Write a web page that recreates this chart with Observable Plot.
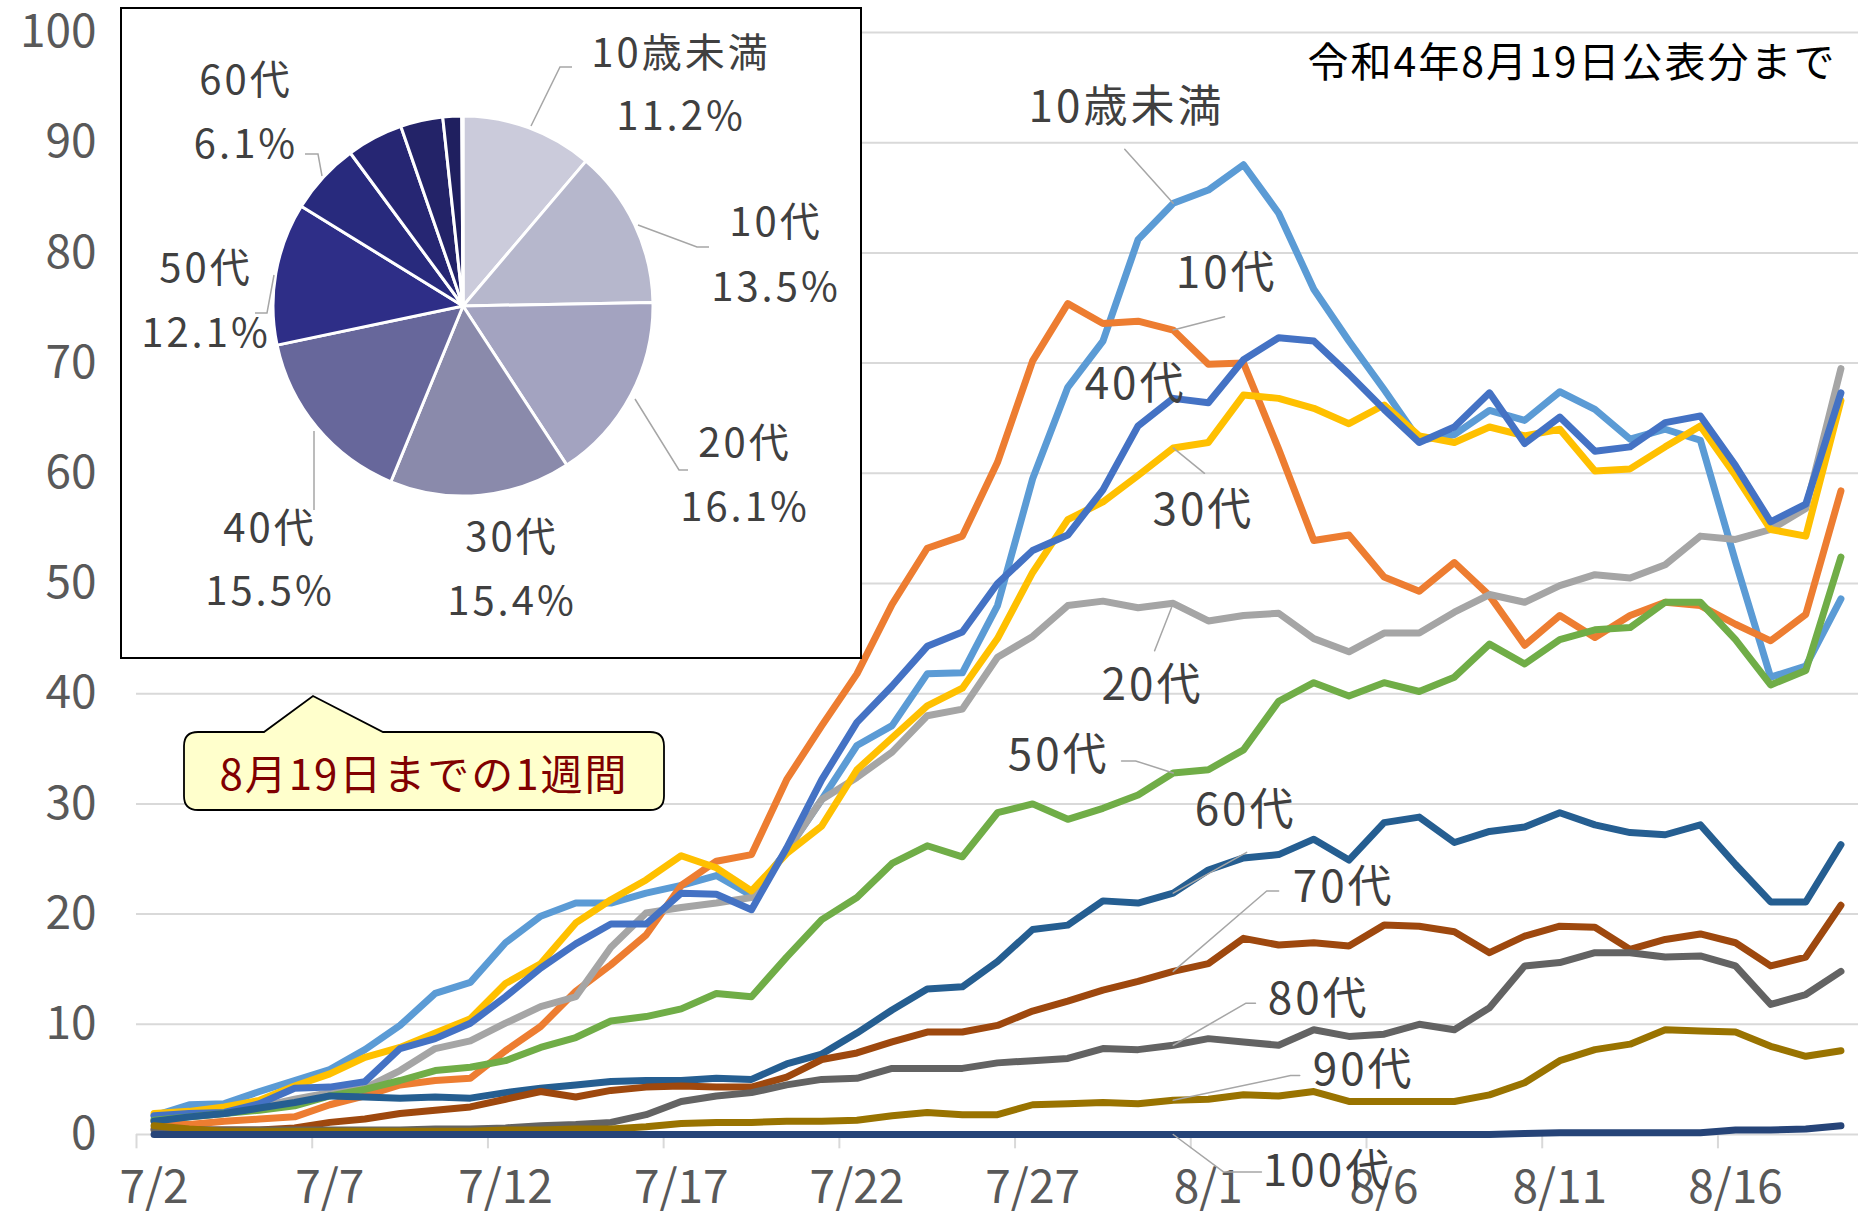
<!DOCTYPE html>
<html><head><meta charset="utf-8">
<script src="https://cdn.jsdelivr.net/npm/d3@7"></script>
<script src="https://cdn.jsdelivr.net/npm/@observablehq/plot@0.6"></script>
<style>
html,body{margin:0;padding:0;background:#fff;}
#chart{position:relative;width:1858px;height:1218px;overflow:hidden;}
</style></head>
<body><div id="chart"></div>
<script>
// ---- data ----
const dates = ["7/2","7/3","7/4","7/5","7/6","7/7","7/8","7/9","7/10","7/11","7/12","7/13","7/14","7/15","7/16","7/17","7/18","7/19","7/20","7/21","7/22","7/23","7/24","7/25","7/26","7/27","7/28","7/29","7/30","7/31","8/1","8/2","8/3","8/4","8/5","8/6","8/7","8/8","8/9","8/10","8/11","8/12","8/13","8/14","8/15","8/16","8/17","8/18","8/19"];
const ageGroups = ["10歳未満","10代","20代","30代","40代","50代","60代","70代","80代","90代","100代"];
const vUnder10 = [1.7,2.7,2.8,3.9,4.9,5.9,7.7,9.9,12.8,13.8,17.4,19.8,21.0,21.0,21.9,22.6,23.5,21.7,25.7,30.4,35.3,37.1,41.8,41.9,48.0,59.5,67.8,72.0,81.2,84.5,85.7,88.0,83.6,76.7,72.0,67.6,63.0,63.5,65.7,64.8,67.4,65.8,63.1,64.0,63.0,52.0,41.5,42.5,48.6];
const vTeens = [1.2,0.9,1.2,1.4,1.6,2.7,3.5,4.5,4.9,5.1,7.6,9.8,13.0,15.4,18.1,22.6,24.8,25.4,32.2,37.1,41.8,48.1,53.2,54.3,61.0,70.2,75.4,73.6,73.8,73.0,69.9,70.0,62.2,53.9,54.4,50.6,49.3,51.9,48.9,44.4,47.1,45.1,47.1,48.3,48.0,46.3,44.8,47.2,58.4];
const v20s = [1.4,1.6,1.9,2.5,3.2,3.8,4.2,5.8,7.8,8.5,10.1,11.6,12.5,17.0,20.1,20.6,21.0,21.5,25.7,30.4,32.4,34.7,38.0,38.6,43.3,45.2,48.0,48.4,47.8,48.2,46.6,47.1,47.3,45.0,43.8,45.5,45.5,47.4,49.0,48.3,49.8,50.8,50.5,51.7,54.3,54.0,54.9,56.8,69.5];
const v30s = [1.9,2.1,2.5,3.1,4.4,5.5,7.0,7.9,9.2,10.5,13.7,15.5,19.2,21.3,23.1,25.3,24.2,22.1,25.5,28.0,33.1,36.0,38.9,40.5,45.0,51.0,55.8,57.4,59.8,62.3,62.8,67.1,66.8,65.9,64.5,66.2,63.4,62.8,64.2,63.4,64.0,60.2,60.4,62.4,64.3,59.8,54.9,54.3,66.6];
const v40s = [1.7,1.9,2.0,2.8,4.2,4.3,4.8,7.8,8.7,10.1,12.5,15.1,17.3,19.1,19.1,21.9,21.8,20.4,26.0,32.2,37.4,40.7,44.3,45.6,50.0,53.0,54.4,58.5,64.3,66.8,66.4,70.3,72.3,72.0,69.0,65.8,62.8,64.2,67.3,62.7,65.1,62.0,62.4,64.6,65.2,60.7,55.6,57.2,67.3];
const v50s = [1.3,1.6,1.9,2.2,2.6,3.5,4.1,4.9,5.8,6.1,6.7,7.9,8.8,10.3,10.7,11.4,12.8,12.5,16.1,19.5,21.5,24.6,26.2,25.2,29.2,30.0,28.6,29.6,30.8,32.8,33.1,34.9,39.3,41.0,39.8,41.0,40.2,41.5,44.5,42.7,44.9,45.8,46.0,48.3,48.3,44.9,40.8,42.1,52.4];
const v60s = [1.2,1.6,1.9,2.4,2.9,3.5,3.4,3.3,3.4,3.3,3.8,4.2,4.5,4.8,4.9,4.9,5.1,5.0,6.4,7.3,9.2,11.3,13.2,13.4,15.7,18.6,19.0,21.2,21.0,21.9,24.0,25.1,25.4,26.8,24.9,28.3,28.8,26.5,27.5,27.9,29.2,28.1,27.4,27.2,28.1,24.5,21.1,21.1,26.3];
const v70s = [0.5,0.4,0.4,0.4,0.6,1.1,1.4,1.9,2.2,2.5,3.2,3.9,3.4,4.0,4.3,4.4,4.3,4.3,5.2,6.8,7.4,8.4,9.3,9.3,9.9,11.2,12.1,13.1,13.9,14.8,15.5,17.8,17.2,17.4,17.1,19.0,18.9,18.4,16.5,18.0,18.9,18.8,16.8,17.7,18.2,17.4,15.3,16.1,20.8];
const v80s = [0.4,0.4,0.4,0.4,0.4,0.4,0.4,0.4,0.5,0.5,0.6,0.8,0.9,1.1,1.8,3.0,3.5,3.8,4.5,5.0,5.1,6.0,6.0,6.0,6.5,6.7,6.9,7.8,7.7,8.1,8.7,8.4,8.1,9.5,8.9,9.1,10.0,9.5,11.5,15.3,15.6,16.5,16.5,16.1,16.2,15.3,11.8,12.7,14.8];
const v90s = [0.8,0.5,0.3,0.3,0.3,0.3,0.3,0.3,0.3,0.3,0.4,0.4,0.5,0.5,0.7,1.0,1.1,1.1,1.2,1.2,1.3,1.7,2.0,1.8,1.8,2.7,2.8,2.9,2.8,3.1,3.2,3.6,3.5,3.9,3.0,3.0,3.0,3.0,3.6,4.7,6.7,7.7,8.2,9.5,9.4,9.3,8.0,7.1,7.6];
const v100s = [0,0,0,0,0,0,0,0,0,0,0,0,0,0,0,0,0,0,0,0,0,0,0,0,0,0,0,0,0,0,0,0,0,0,0,0,0,0,0,0.1,0.15,0.15,0.15,0.15,0.15,0.4,0.4,0.5,0.8];
const seriesValues = [vUnder10,vTeens,v20s,v30s,v40s,v50s,v60s,v70s,v80s,v90s,v100s];

// pie: share of the week up to 8/19 (%)
const pieNames = ["10歳未満","10代","20代","30代","40代","50代","60代","70代","80代","90代","100代"];
const pieShares = [11.2,13.5,16.1,15.4,15.5,12.1,6.1,4.8,3.6,1.6,0.1];
const pieLabelTexts = ["11.2%","13.5%","16.1%","15.4%","15.5%","12.1%","6.1%"];

// ---- styles ----
const lineColors = ["#5B9BD5","#ED7D31","#A5A5A5","#FFC000","#4472C4","#70AD47","#255E91","#9E480E","#636363","#997300","#264478"];
const pieColors = ["#CBCBDB","#B6B7CC","#A3A3C0","#8A8AAB","#67679B","#2E2E87","#282A7D","#262673","#232368","#1F1F5F","#1C1C55"];
const FONT = "'Noto Sans CJK JP','Noto Sans',sans-serif";

// series labels in data coordinates (day index, value) and leader elbows
const seriesLabels = [
  {g:"10歳未満", x:27.67, y:93.2, leader:[[27.62,89.4]]},
  {g:"10代", x:30.52, y:78.1, leader:[[30.46,74.2]]},
  {g:"40代", x:27.93, y:68.0, leader:null},
  {g:"30代", x:29.86, y:56.6, leader:[[29.89,60.0]]},
  {g:"20代", x:28.41, y:40.7, leader:[[28.47,43.9]]},
  {g:"50代", x:25.74, y:34.4, leader:[[27.53,33.9],[27.93,33.9]]},
  {g:"60代", x:31.06, y:29.4, leader:[[31.09,25.6]]},
  {g:"70代", x:33.85, y:22.4, leader:[[32.0,22.1],[31.66,22.1]]},
  {g:"80代", x:33.14, y:12.25, leader:[[31.34,11.9],[31.06,11.9]]},
  {g:"90代", x:34.42, y:5.8, leader:[[32.6,5.35],[32.34,5.35]]},
  {g:"100代", x:33.39, y:-3.4, leader:[[31.51,-3.4],[30.43,-3.4]]}
];
const leaderDay = 29;

// ---- build tables ----
const rows = [];
ageGroups.forEach((g,k)=>seriesValues[k].forEach((v,i)=>rows.push({g, i, v})));
const leaderRows = [];
seriesLabels.forEach(l=>{
  if(!l.leader) return;
  l.leader.forEach(p=>leaderRows.push({g:l.g, x:p[0], y:p[1]}));
  const k = ageGroups.indexOf(l.g);
  leaderRows.push({g:l.g, x:leaderDay, y:seriesValues[k][leaderDay]});
});
const boundaries = d3.range(-0.5, 48, 5);

const chart = Plot.plot({
  width:1858, height:1218,
  marginLeft:136, marginRight:0, marginTop:32, marginBottom:84,
  style:{fontFamily:FONT, background:"white", overflow:"visible"},
  x:{type:"linear", domain:[-0.5,48.5]},
  y:{domain:[0,100]},
  color:{domain:ageGroups, range:lineColors},
  marks:[
    Plot.gridY(d3.range(10,101,10), {stroke:"#d9d9d9", strokeOpacity:1, strokeWidth:2}),
    Plot.ruleY([0], {stroke:"#d9d9d9", strokeWidth:2}),
    Plot.ruleX(boundaries, {y1:0, y2:-1.3, stroke:"#d9d9d9", strokeWidth:2}),
    Plot.axisY({ticks:d3.range(0,101,10), tickSize:0, tickPadding:40, fontSize:46, fill:"#595959", label:null}),
    Plot.axisX({ticks:d3.range(0,49,5), tickFormat:i=>dates[i], tickSize:0, tickPadding:36, fontSize:46, fill:"#595959", label:null}),
    Plot.line(rows, {x:"i", y:"v", z:"g", stroke:"g", strokeWidth:7, strokeLinejoin:"round", strokeLinecap:"round"}),
    Plot.line(leaderRows, {x:"x", y:"y", z:"g", stroke:"#a6a6a6", strokeWidth:1.5}),
    Plot.text(seriesLabels, {x:"x", y:"y", text:"g", fontSize:44, fill:"#404040"})
  ]
});
document.getElementById("chart").appendChild(chart);

const svg = d3.select(chart);
// spacing only on the series labels (last text mark)
svg.selectAll("g[aria-label='text'] text").style("letter-spacing","3px");

// ---- inset pie ----
const inset = svg.append("g");
inset.append("rect").attr("x",121).attr("y",8).attr("width",740).attr("height",650)
  .attr("fill","white").attr("stroke","black").attr("stroke-width",2);
const cx = 463, cy = 306, R = 190;
const pieData = pieNames.map((n,k)=>({n, share:pieShares[k], color:pieColors[k]}));
const arcs = d3.pie().sort(null).value(d=>d.share)(pieData);
const arcGen = d3.arc().innerRadius(0).outerRadius(R);
inset.append("g").attr("transform",`translate(${cx},${cy})`)
  .selectAll("path").data(arcs).join("path")
  .attr("d",arcGen).attr("fill",d=>d.data.color)
  .attr("stroke","white").attr("stroke-width",3).attr("stroke-linejoin","round");

// pie labels (layout positions)
const pieLabelPos = [[681,50,113],[776,219,284],[745,440,504],[512,534,598],[270,525,588],[206,265,330],[246,77,141]];
const pieLeaders = [
  [[531,126],[560,67],[572,67]],
  [[638,225],[697,247],[709,247]],
  [[635,399],[679,470],[688,470]],
  null,
  [[314,431],[314,510]],
  [[274,275],[267,313],[255,313]],
  [[322,176],[318,154],[305,154]]
];
pieLeaders.forEach(pts=>{
  if(!pts) return;
  inset.append("path").attr("d",d3.line()(pts)).attr("fill","none").attr("stroke","#a6a6a6").attr("stroke-width",1.5);
});
pieLabelPos.forEach((p,k)=>{
  [pieNames[k], pieLabelTexts[k]].forEach((t,j)=>{
    inset.append("text").attr("x",p[0]).attr("y",p[1+j]).attr("text-anchor","middle")
      .attr("dominant-baseline","central").attr("font-size",40).attr("fill","#404040")
      .style("letter-spacing","3px").attr("font-family",FONT).text(t);
  });
});

// ---- callout ----
const co = svg.append("g");
const rx0=184, ry0=732, rx1=664, ry1=810, rr=14;
const calloutPath = `M${rx0+rr},${ry0} L264,${ry0} L313,696 L383,${ry0} L${rx1-rr},${ry0} Q${rx1},${ry0} ${rx1},${ry0+rr} L${rx1},${ry1-rr} Q${rx1},${ry1} ${rx1-rr},${ry1} L${rx0+rr},${ry1} Q${rx0},${ry1} ${rx0},${ry1-rr} L${rx0},${ry0+rr} Q${rx0},${ry0} ${rx0+rr},${ry0} Z`;
co.append("path").attr("d",calloutPath).attr("fill","#FFFFCC").attr("stroke","black").attr("stroke-width",1.8);
co.append("text").attr("x",424).attr("y",771).attr("text-anchor","middle").attr("dominant-baseline","central")
  .attr("font-size",42).attr("fill","#800000").attr("font-family",FONT).style("letter-spacing","2px").text("8月19日までの1週間");

// ---- note ----
svg.append("text").attr("x",1572).attr("y",59).attr("text-anchor","middle").attr("dominant-baseline","central")
  .attr("font-size",41).attr("fill","#000").attr("font-family",FONT).style("letter-spacing","2px").text("令和4年8月19日公表分まで");
</script>
</body></html>
